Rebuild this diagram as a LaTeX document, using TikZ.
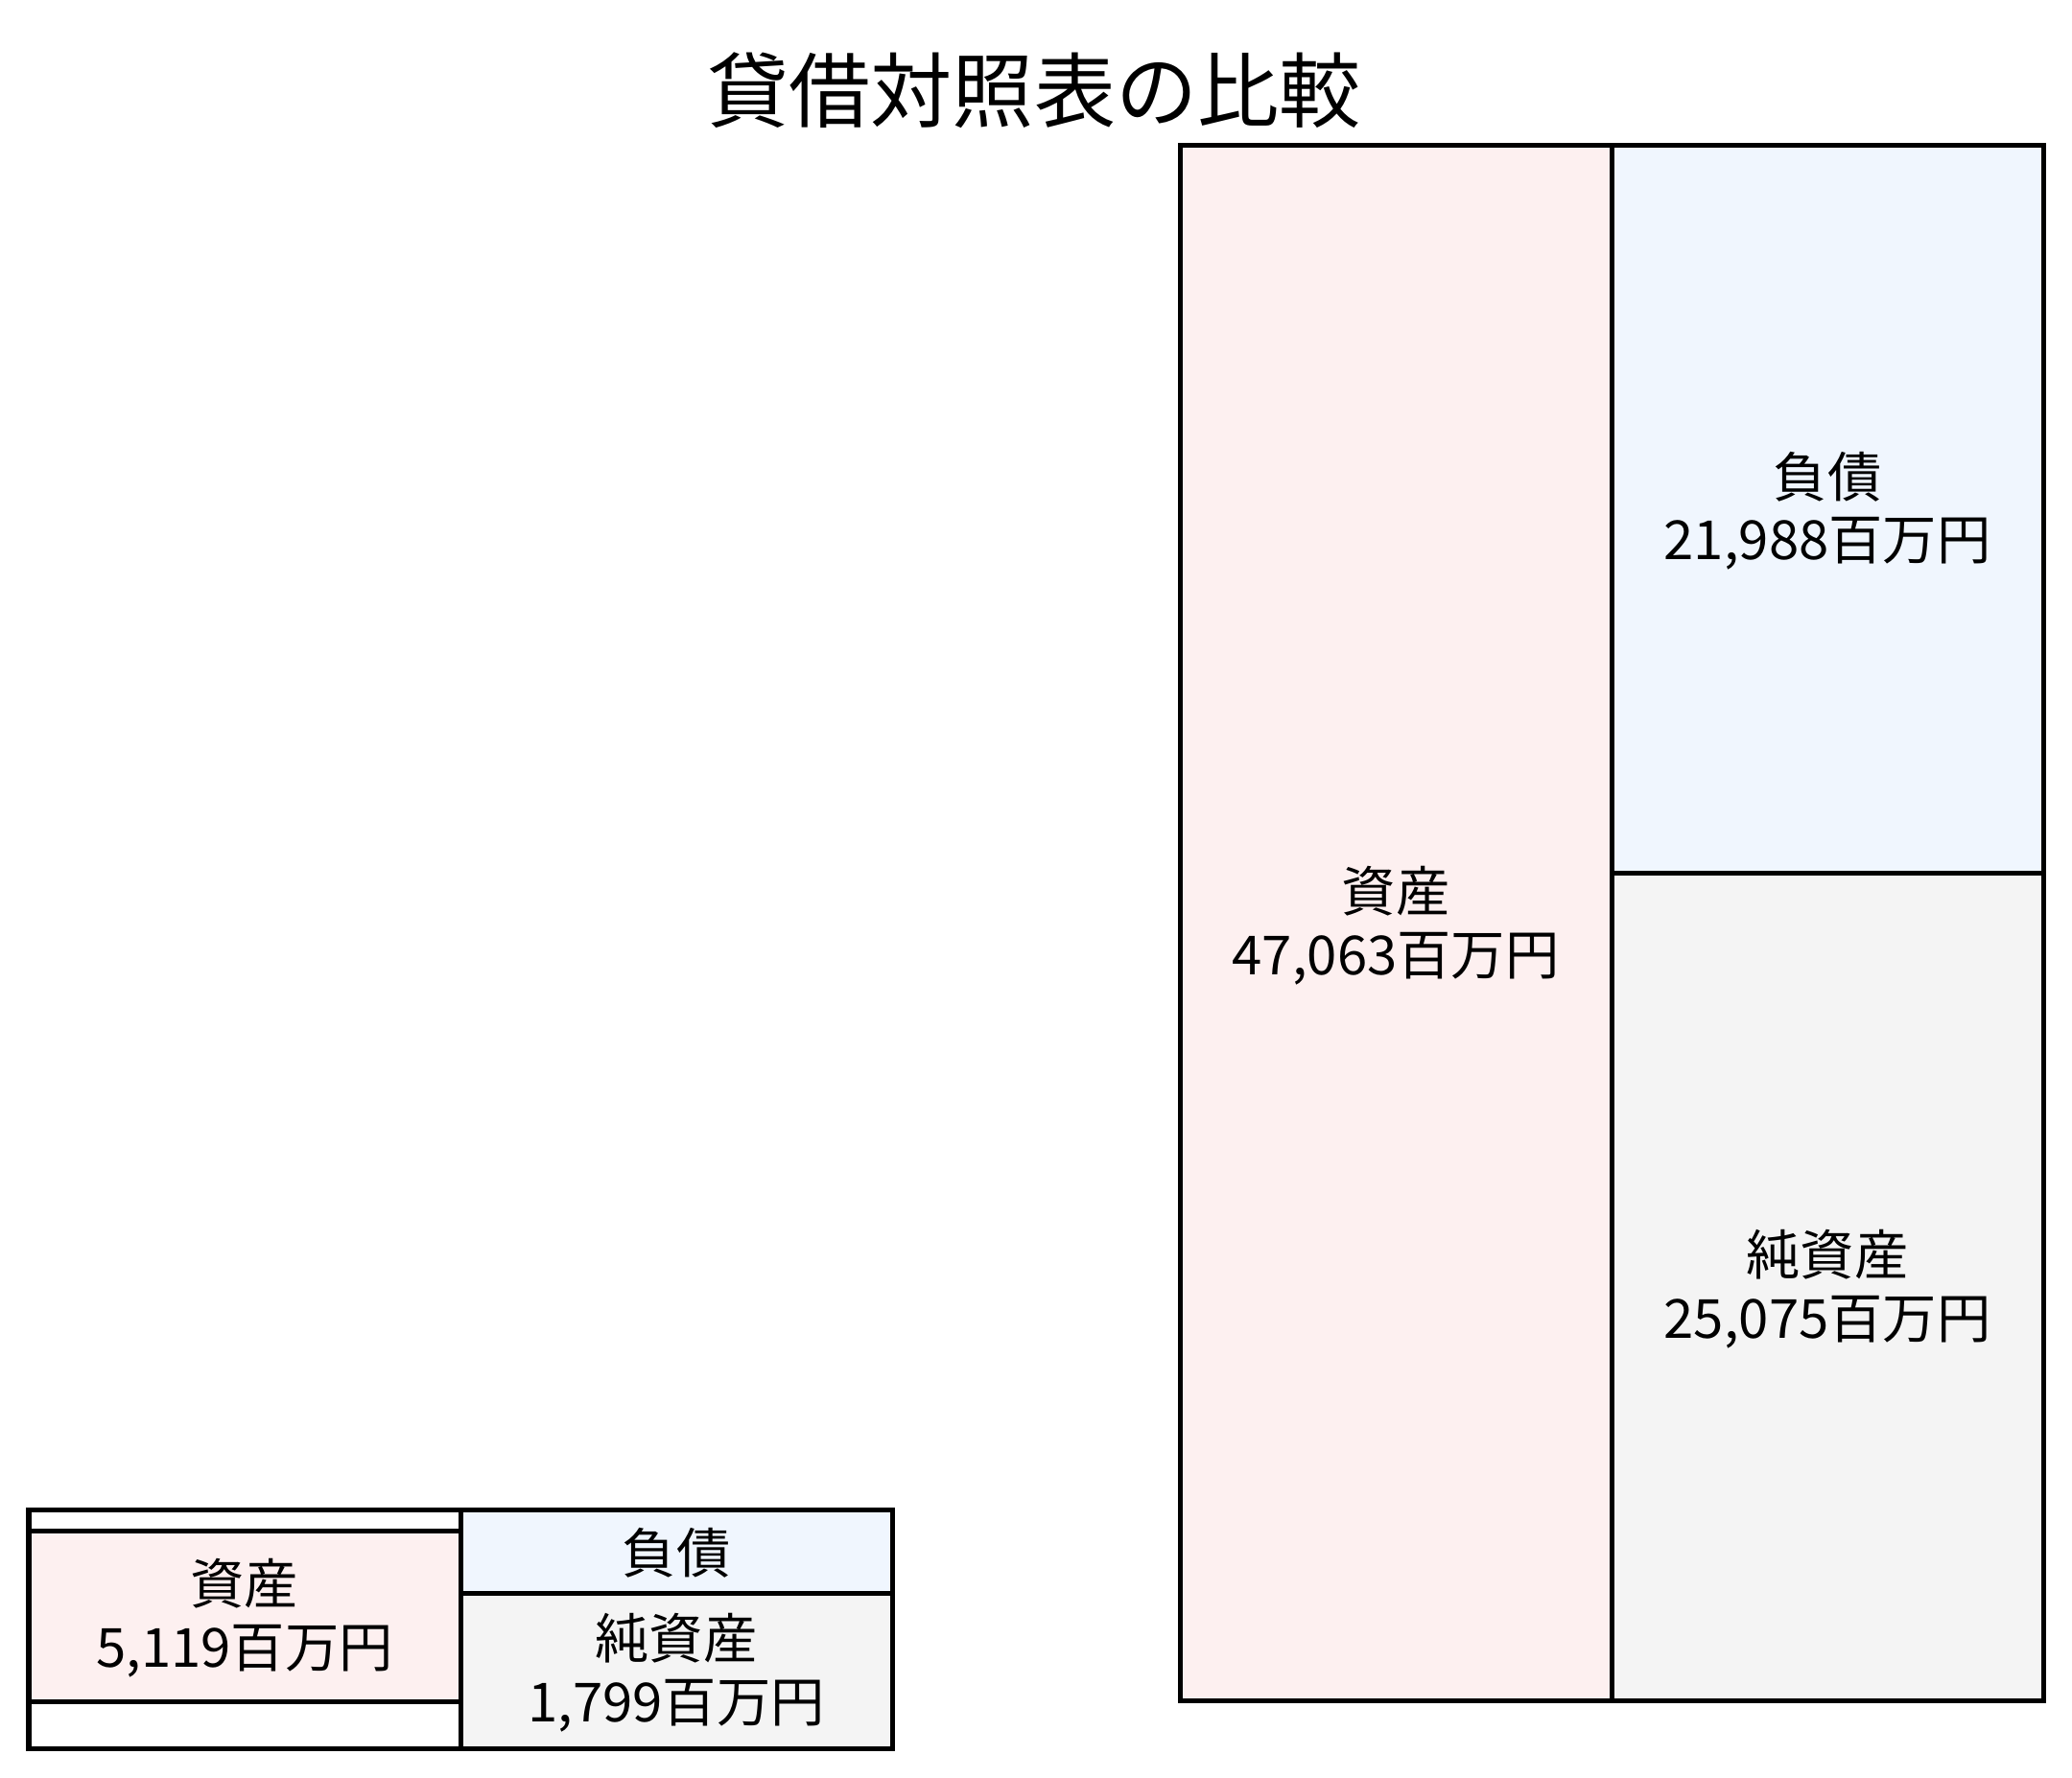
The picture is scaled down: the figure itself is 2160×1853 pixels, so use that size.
\documentclass[tikz,border=0pt]{standalone}
\usepackage{fontspec}
\setmainfont{Noto Sans CJK JP}
\definecolor{assetpink}{HTML}{FDF0F0}
\definecolor{liabblue}{HTML}{F0F6FE}
\definecolor{equitygray}{HTML}{F4F4F4}
\begin{document}
\begin{tikzpicture}[x=0.01cm,y=-0.01cm,line width=0.05cm,
  cell/.style={draw=black},
  lbl/.style={align=center,font=\fontsize{16pt}{18.6pt}\selectfont,inner sep=0pt}]
\useasboundingbox (0,0) rectangle (2160,1853);
\node[font=\fontsize{24.2pt}{28pt}\selectfont,inner sep=0pt] (title) at (1078,94) {貸借対照表の比較};
% small sheet
\draw[cell] (30,1574) rectangle (480,1823);
\filldraw[cell,fill=assetpink] (30,1596) rectangle (480,1774);
\filldraw[cell,fill=liabblue] (480,1574) rectangle (930,1661);
\filldraw[cell,fill=equitygray] (480,1661) rectangle (930,1823);
\node[lbl] (sa) at (255,1687) {資産\\5,119百万円};
\node[lbl] (sl) at (705,1619) {負債};
\node[lbl] (se) at (705,1744) {純資産\\1,799百万円};
% large sheet
\filldraw[cell,fill=assetpink] (1230,151) rectangle (1680,1773);
\filldraw[cell,fill=liabblue] (1680,151) rectangle (2130,910);
\filldraw[cell,fill=equitygray] (1680,910) rectangle (2130,1773);
\node[lbl] (la) at (1455,965) {資産\\47,063百万円};
\node[lbl] (ll) at (1905,533) {負債\\21,988百万円};
\node[lbl] (le) at (1905,1344) {純資産\\25,075百万円};
\end{tikzpicture}
\end{document}
